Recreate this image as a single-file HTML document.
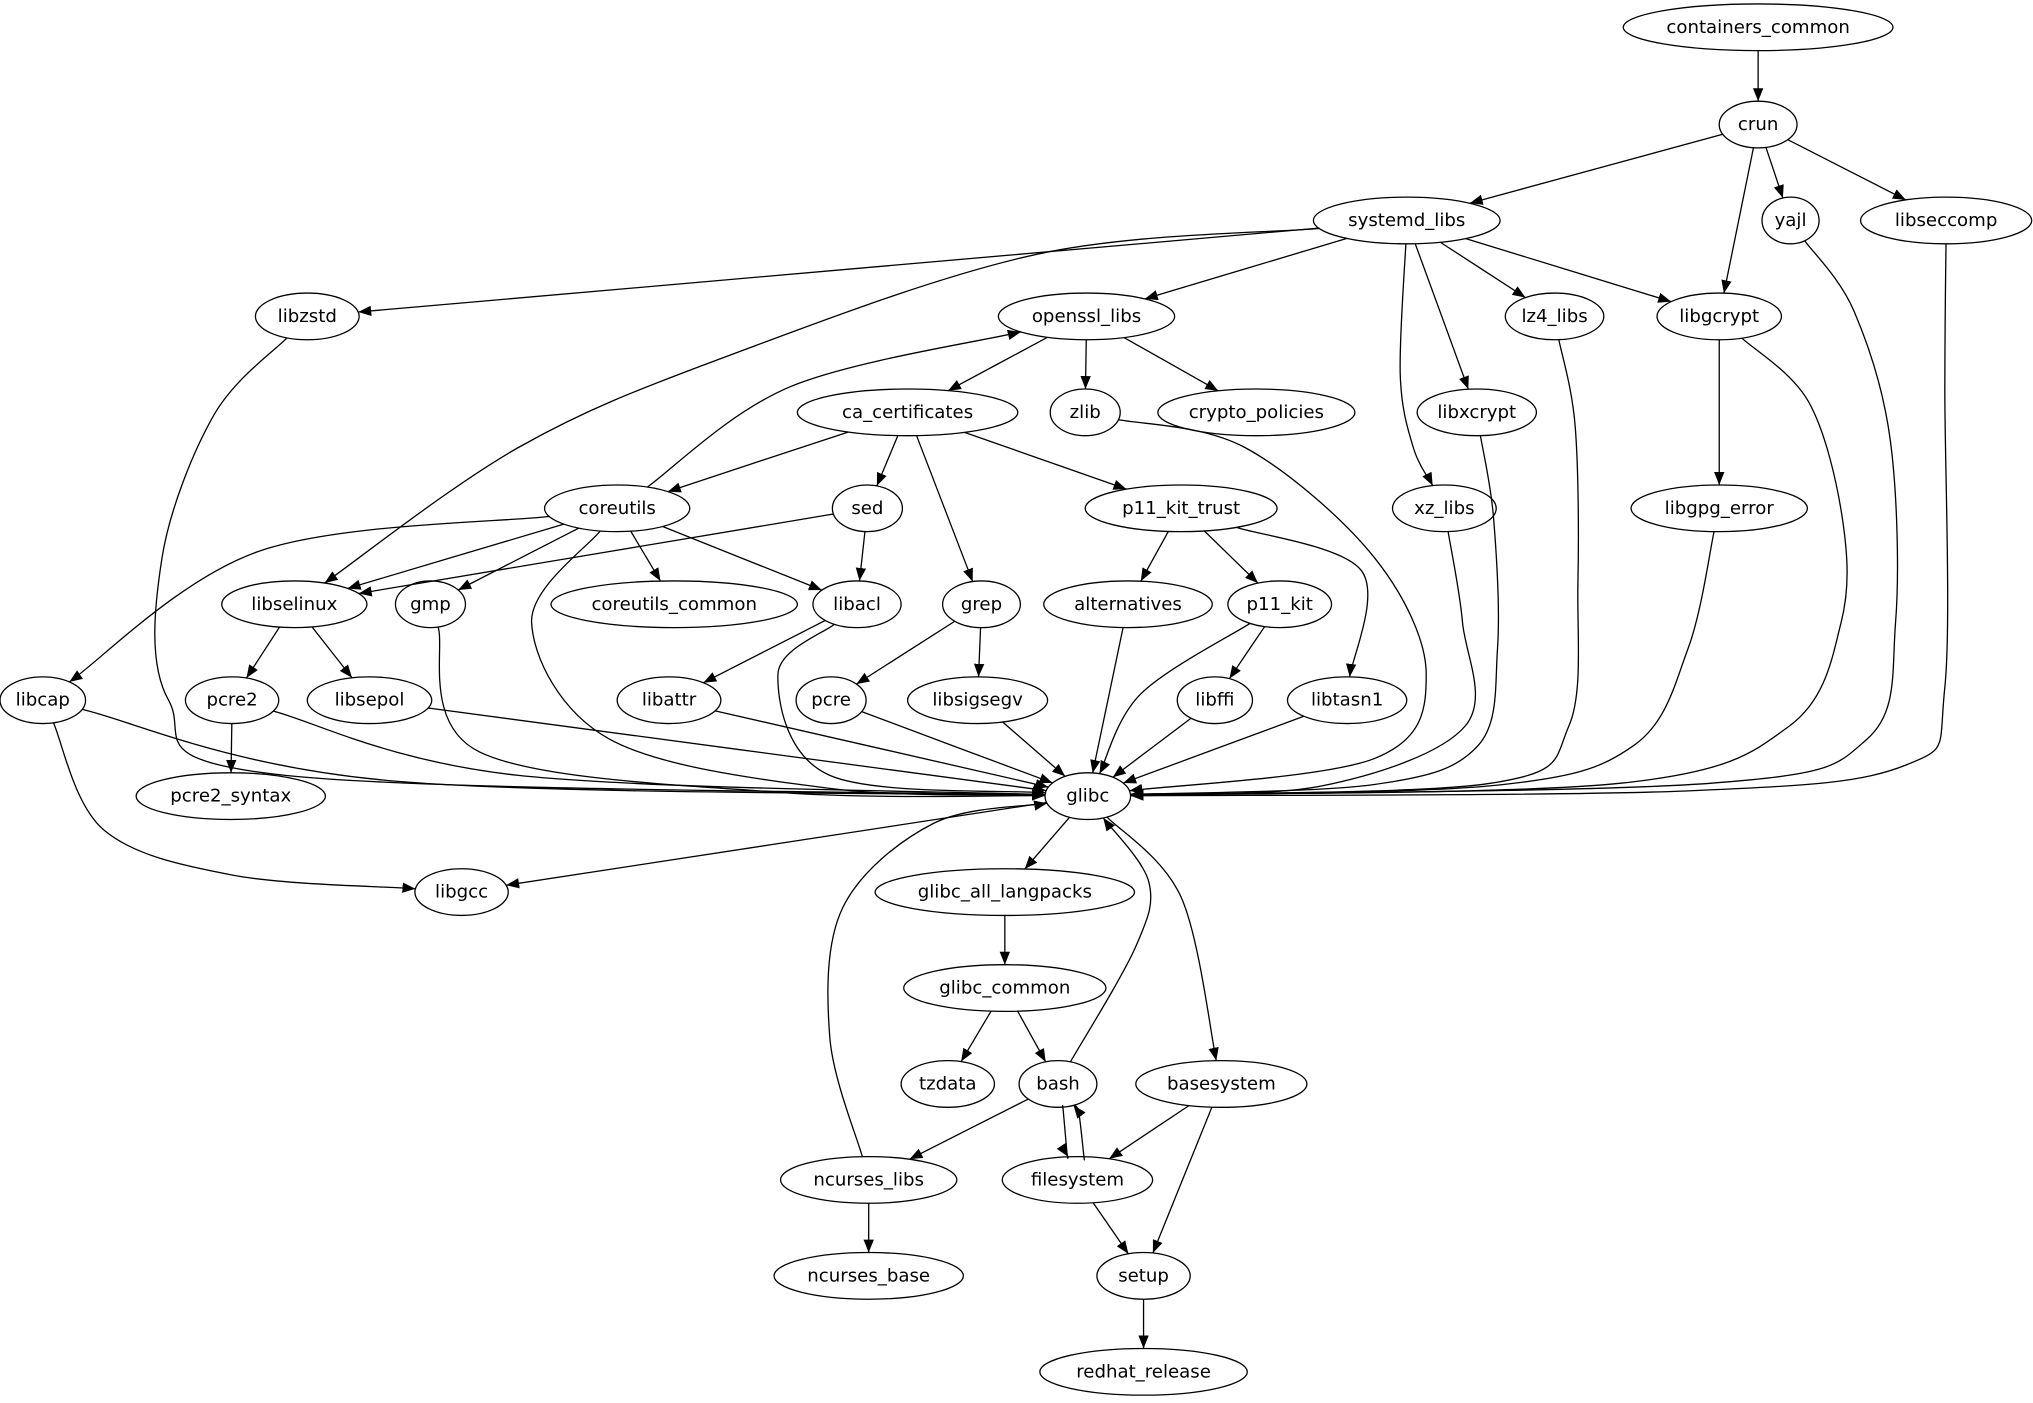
<!DOCTYPE html>
<html><head><meta charset="utf-8"><style>
html,body{margin:0;padding:0;background:#fff;}
svg{display:block;}
text{font-family:"DejaVu Sans","Liberation Sans",sans-serif;font-size:14px;text-anchor:middle;dominant-baseline:central;fill:#000;}
ellipse{fill:none;stroke:#000;stroke-width:1;}
path.e{fill:none;stroke:#000;stroke-width:1;}
</style></head><body>
<svg id="s" width="2033" height="1403" viewBox="0 0 1568 1082" xmlns="http://www.w3.org/2000/svg">
<defs><marker id="a" viewBox="0 0 10 8" refX="10" refY="4" markerWidth="10" markerHeight="8" markerUnits="userSpaceOnUse" orient="auto"><path d="M0,0 L10,4 L0,8 z" fill="#000"/></marker></defs>
<g id="edges"></g>
<g id="nodes">
<ellipse id="containers_common" cx="1356" cy="21" rx="104" ry="18"/><text x="1356" y="21">containers_common</text>
<ellipse id="crun" cx="1356" cy="96" rx="30" ry="18"/><text x="1356" y="96">crun</text>
<ellipse id="systemd_libs" cx="1085" cy="170" rx="72" ry="18"/><text x="1085" y="170">systemd_libs</text>
<ellipse id="yajl" cx="1381" cy="170" rx="22" ry="18"/><text x="1381" y="170">yajl</text>
<ellipse id="libseccomp" cx="1501" cy="170" rx="66" ry="18"/><text x="1501" y="170">libseccomp</text>
<ellipse id="libzstd" cx="237" cy="244" rx="40" ry="18"/><text x="237" y="244">libzstd</text>
<ellipse id="openssl_libs" cx="838" cy="244" rx="68" ry="18"/><text x="838" y="244">openssl_libs</text>
<ellipse id="lz4_libs" cx="1199" cy="244" rx="38" ry="18"/><text x="1199" y="244">lz4_libs</text>
<ellipse id="libgcrypt" cx="1326" cy="244" rx="48" ry="18"/><text x="1326" y="244">libgcrypt</text>
<ellipse id="ca_certificates" cx="700" cy="318" rx="85" ry="18"/><text x="700" y="318">ca_certificates</text>
<ellipse id="zlib" cx="837" cy="318" rx="27" ry="18"/><text x="837" y="318">zlib</text>
<ellipse id="crypto_policies" cx="969" cy="318" rx="76" ry="18"/><text x="969" y="318">crypto_policies</text>
<ellipse id="libxcrypt" cx="1139" cy="318" rx="46" ry="18"/><text x="1139" y="318">libxcrypt</text>
<ellipse id="coreutils" cx="476" cy="392" rx="56" ry="18"/><text x="476" y="392">coreutils</text>
<ellipse id="sed" cx="669" cy="392" rx="27" ry="18"/><text x="669" y="392">sed</text>
<ellipse id="p11_kit_trust" cx="911" cy="392" rx="74" ry="18"/><text x="911" y="392">p11_kit_trust</text>
<ellipse id="xz_libs" cx="1114" cy="392" rx="40" ry="18"/><text x="1114" y="392">xz_libs</text>
<ellipse id="libgpg_error" cx="1326" cy="392" rx="68" ry="18"/><text x="1326" y="392">libgpg_error</text>
<ellipse id="libselinux" cx="227" cy="466" rx="56" ry="18"/><text x="227" y="466">libselinux</text>
<ellipse id="gmp" cx="332" cy="466" rx="27" ry="18"/><text x="332" y="466">gmp</text>
<ellipse id="coreutils_common" cx="520" cy="466" rx="95" ry="18"/><text x="520" y="466">coreutils_common</text>
<ellipse id="libacl" cx="661" cy="466" rx="34" ry="18"/><text x="661" y="466">libacl</text>
<ellipse id="grep" cx="757" cy="466" rx="30" ry="18"/><text x="757" y="466">grep</text>
<ellipse id="alternatives" cx="870" cy="466" rx="65" ry="18"/><text x="870" y="466">alternatives</text>
<ellipse id="p11_kit" cx="987" cy="466" rx="40" ry="18"/><text x="987" y="466">p11_kit</text>
<ellipse id="libcap" cx="33" cy="540" rx="33" ry="18"/><text x="33" y="540">libcap</text>
<ellipse id="pcre2" cx="179" cy="540" rx="36" ry="18"/><text x="179" y="540">pcre2</text>
<ellipse id="libsepol" cx="285" cy="540" rx="48" ry="18"/><text x="285" y="540">libsepol</text>
<ellipse id="libattr" cx="516" cy="540" rx="40" ry="18"/><text x="516" y="540">libattr</text>
<ellipse id="pcre" cx="641" cy="540" rx="27" ry="18"/><text x="641" y="540">pcre</text>
<ellipse id="libsigsegv" cx="754" cy="540" rx="54" ry="18"/><text x="754" y="540">libsigsegv</text>
<ellipse id="libffi" cx="937" cy="540" rx="29" ry="18"/><text x="937" y="540">libffi</text>
<ellipse id="libtasn1" cx="1039" cy="540" rx="46" ry="18"/><text x="1039" y="540">libtasn1</text>
<ellipse id="glibc" cx="839" cy="614" rx="33" ry="18"/><text x="839" y="614">glibc</text>
<ellipse id="pcre2_syntax" cx="178" cy="614" rx="73" ry="18"/><text x="178" y="614">pcre2_syntax</text>
<ellipse id="libgcc" cx="356" cy="688" rx="36" ry="18"/><text x="356" y="688">libgcc</text>
<ellipse id="glibc_all_langpacks" cx="775" cy="688" rx="100" ry="18"/><text x="775" y="688">glibc_all_langpacks</text>
<ellipse id="glibc_common" cx="775" cy="762" rx="78" ry="18"/><text x="775" y="762">glibc_common</text>
<ellipse id="tzdata" cx="731" cy="836" rx="36" ry="18"/><text x="731" y="836">tzdata</text>
<ellipse id="bash" cx="816" cy="836" rx="30" ry="18"/><text x="816" y="836">bash</text>
<ellipse id="basesystem" cx="942" cy="836" rx="66" ry="18"/><text x="942" y="836">basesystem</text>
<ellipse id="ncurses_libs" cx="670" cy="910" rx="68" ry="18"/><text x="670" y="910">ncurses_libs</text>
<ellipse id="filesystem" cx="831" cy="910" rx="58" ry="18"/><text x="831" y="910">filesystem</text>
<ellipse id="ncurses_base" cx="670" cy="984" rx="73" ry="18"/><text x="670" y="984">ncurses_base</text>
<ellipse id="setup" cx="882" cy="984" rx="36" ry="18"/><text x="882" y="984">setup</text>
<ellipse id="redhat_release" cx="882" cy="1058" rx="80" ry="18"/><text x="882" y="1058">redhat_release</text>
</g>
</svg>
<script>
var E=[
["containers_common","crun"],["crun","systemd_libs"],["crun","libgcrypt"],["crun","yajl"],["crun","libseccomp"],
["yajl","glibc",[[1430,240],[1458,340],[1462,480],[1440,570],[1320,604]]],
["libseccomp","glibc",[[1500,300],[1500,530],[1470,590],[1300,610]]],
["systemd_libs","libzstd"],["systemd_libs","openssl_libs"],["systemd_libs","lz4_libs"],["systemd_libs","libgcrypt"],
["systemd_libs","libxcrypt"],["systemd_libs","xz_libs",[[1080,290],[1090,345]]],
["systemd_libs","libselinux",[[800,196],[560,275],[400,345]]],
["libzstd","glibc",[[165,320],[125,430],[130,540],[220,598]]],
["openssl_libs","ca_certificates"],["openssl_libs","zlib"],["openssl_libs","crypto_policies"],
["coreutils","openssl_libs",[[610,298]]],
["zlib","glibc",[[960,345],[1060,430],[1100,520],[1060,585]]],
["lz4_libs","glibc",[[1215,330],[1217,450],[1210,560],[1150,604]]],
["libgcrypt","glibc",[[1395,310],[1421,400],[1420,480],[1380,560],[1250,604]]],
["libgcrypt","libgpg_error"],
["libxcrypt","glibc",[[1152,400],[1155,500],[1140,575],[1060,605]]],
["xz_libs","glibc",[[1128,480],[1130,560],[1020,606]]],
["libgpg_error","glibc",[[1302,500],[1260,575],[1150,606]]],
["ca_certificates","coreutils"],["ca_certificates","sed"],["ca_certificates","grep"],["ca_certificates","p11_kit_trust"],
["coreutils","libselinux"],["coreutils","libcap",[[200,425]]],["coreutils","gmp"],["coreutils","coreutils_common"],["coreutils","libacl"],
["coreutils","glibc",[[410,480],[470,570],[640,608]]],
["sed","libacl"],["sed","libselinux"],
["p11_kit_trust","alternatives"],["p11_kit_trust","p11_kit"],["p11_kit_trust","libtasn1",[[1050,440]]],
["libselinux","pcre2"],["libselinux","libsepol"],
["gmp","glibc",[[370,580],[600,611]]],
["libacl","libattr"],["libacl","glibc",[[600,520],[640,598]]],
["grep","pcre"],["grep","libsigsegv"],
["alternatives","glibc"],["p11_kit","glibc",[[880,535]]],["p11_kit","libffi"],
["libcap","glibc",[[300,602]]],["libcap","libgcc",[[80,640],[180,675]]],
["pcre2","glibc",[[400,598]]],["pcre2","pcre2_syntax"],
["libsepol","glibc"],["libattr","glibc"],["pcre","glibc"],["libsigsegv","glibc"],["libffi","glibc"],["libtasn1","glibc"],
["glibc","libgcc"],["glibc","glibc_all_langpacks"],["glibc","basesystem",[[911,692]]],
["glibc_all_langpacks","glibc_common"],["glibc_common","tzdata"],["glibc_common","bash"],
["bash","glibc",[[876,730],[886,680]]],
["bash","ncurses_libs"],["bash","filesystem",[[820,856],[823,890]]],["filesystem","bash",[[836,892],[832,858]]],
["ncurses_libs","glibc",[[640,800],[650,700],[720,635]]],
["ncurses_libs","ncurses_base"],["basesystem","filesystem"],["basesystem","setup"],["filesystem","setup"],["setup","redhat_release"]
];
function nd(id){var e=document.getElementById(id);return{x:+e.getAttribute("cx"),y:+e.getAttribute("cy"),rx:+e.getAttribute("rx"),ry:+e.getAttribute("ry")};}
function bd(n,p){var dx=p[0]-n.x,dy=p[1]-n.y;var t=1/Math.sqrt((dx/n.rx)*(dx/n.rx)+(dy/n.ry)*(dy/n.ry));return[n.x+dx*t,n.y+dy*t];}
var g=document.getElementById("edges"),NS="http://www.w3.org/2000/svg";
E.forEach(function(ed){
 var a=nd(ed[0]),b=nd(ed[1]),w=ed[2]||[];
 var f=w.length?w[0]:[b.x,b.y],l=w.length?w[w.length-1]:[a.x,a.y];
 var P=[bd(a,f)].concat(w,[bd(b,l)]);
 var d="M"+P[0][0].toFixed(1)+","+P[0][1].toFixed(1);
 for(var i=0;i<P.length-1;i++){
  var p0=P[Math.max(i-1,0)],p1=P[i],p2=P[i+1],p3=P[Math.min(i+2,P.length-1)];
  var c1=[p1[0]+(p2[0]-p0[0])/6,p1[1]+(p2[1]-p0[1])/6],c2=[p2[0]-(p3[0]-p1[0])/6,p2[1]-(p3[1]-p1[1])/6];
  d+=" C"+c1[0].toFixed(1)+","+c1[1].toFixed(1)+" "+c2[0].toFixed(1)+","+c2[1].toFixed(1)+" "+p2[0].toFixed(1)+","+p2[1].toFixed(1);
 }
 var p=document.createElementNS(NS,"path");p.setAttribute("d",d);p.setAttribute("class","e");p.setAttribute("marker-end","url(#a)");g.appendChild(p);
});
</script>
</body></html>
